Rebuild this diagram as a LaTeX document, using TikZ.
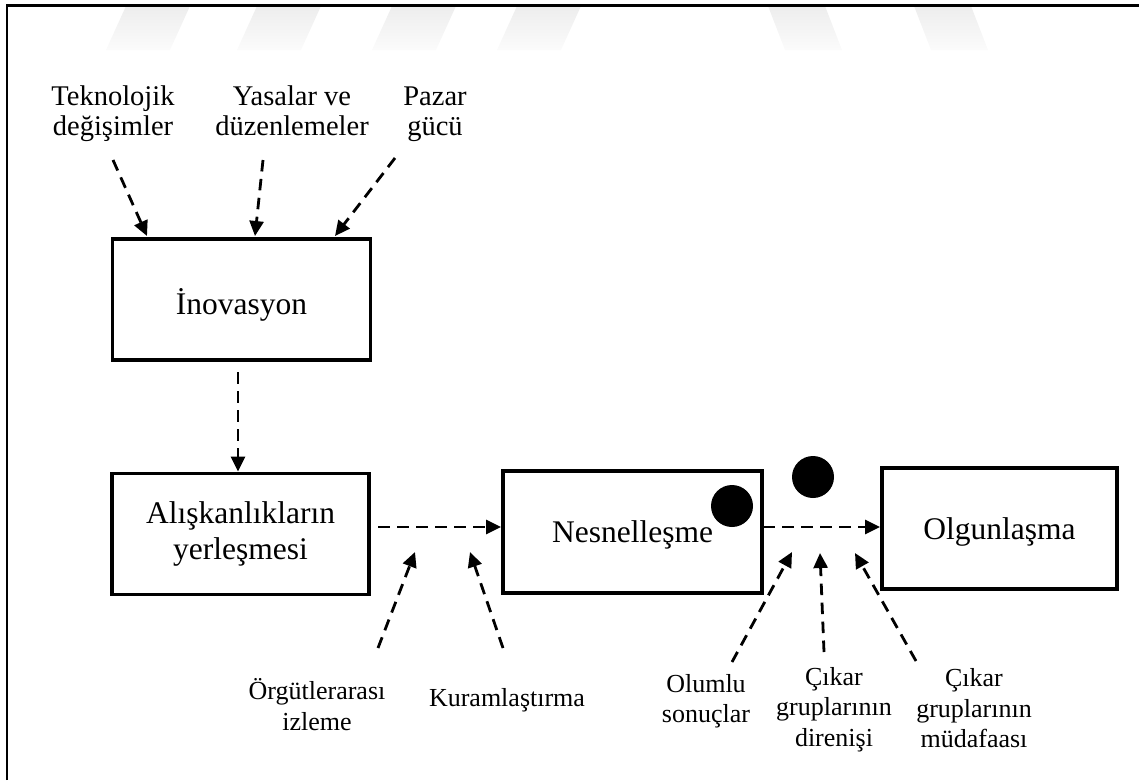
\documentclass[tikz,border=0pt]{standalone}
\usepackage{fontspec}
\setmainfont{Liberation Serif}
\usetikzlibrary{arrows.meta}
\begin{document}
\begin{tikzpicture}[x=1pt,y=-1pt,
  stage/.style={draw,line width=3.8pt,minimum width=#1,minimum height=121pt,
    inner sep=0pt,align=center,font=\fontsize{31.5}{36}\selectfont},
  oneline/.style={text height=21pt,text depth=0pt},
  toplabel/.style={align=center,inner sep=0pt,font=\fontsize{28.5}{30}\selectfont},
  lowlabel/.style={align=center,inner sep=0pt,font=\fontsize{26}{30.5}\selectfont},
  flow/.style={line width=2.8pt,dash pattern=on 11.5pt off 7.5pt,
    -{Triangle[length=15pt,width=14pt]}},
  marker/.style={fill=black},
  mark bar/.style={top color=black!7,bottom color=black!1.5,draw=none}]
\useasboundingbox (0,0) rectangle (1139,780);

% faint bars along the top edge
\shade[mark bar] (106,50) -- (126,6) -- (190,6) -- (170,50) -- cycle;
\shade[mark bar] (237,50) -- (257,6) -- (321,6) -- (301,50) -- cycle;
\shade[mark bar] (372,50) -- (392,6) -- (456,6) -- (436,50) -- cycle;
\shade[mark bar] (497,50) -- (517,6) -- (581,6) -- (561,50) -- cycle;
\shade[mark bar] (785,50) -- (768,6) -- (825,6) -- (842,50) -- cycle;
\shade[mark bar] (931,50) -- (914,6) -- (971,6) -- (988,50) -- cycle;

% frame
\draw[line width=2.6pt] (7,780) -- (7,5.5) -- (1139,5.5);

% stages
\node[stage=258pt,text height=30pt,text depth=0pt] (ino) at (241.5,299.5) {İnovasyon};
\node[stage=257pt] (alis) at (240.5,534) {Alışkanlıkların\\yerleşmesi};
\node[stage=259pt,minimum height=122pt,oneline] (nes) at (632.5,532) {Nesnelleşme};
\node[stage=235pt,oneline] (olg) at (999.5,528.5) {Olgunlaşma};

% markers
\fill[marker] (732,506) circle (21);
\fill[marker] (813,477) circle (21);

% influences on innovation
\node[toplabel] (tek) at (113,114.5) {\strut Teknolojik\\\strut değişimler};
\node[toplabel] (yas) at (292,114.5) {\strut Yasalar ve\\\strut düzenlemeler};
\node[toplabel] (paz) at (435,114.5) {\strut Pazar\\\strut gücü};
\coordinate (tek0) at (113,160);
\coordinate (yas0) at (263,160);
\coordinate (paz0) at (395,158);
\draw[flow] (tek0) -- (147,236);
\draw[flow] (yas0) -- (255,236);
\draw[flow] (paz0) -- (335,236);

% main flow
\coordinate (f1) at (238,372);
\draw[flow] (f1) -- (f1 |- alis.north);
\coordinate (f2) at (378,527);
\draw[flow] (f2) -- (f2 -| nes.west);
\coordinate (f3) at (763,527);
\draw[flow] (f3) -- (f3 -| olg.west);

% lower labels
\node[lowlabel] (org) at (317,709) {\strut Örgütlerarası\\\strut izleme};
\node[lowlabel] (kur) at (507,700) {\strut Kuramlaştırma};
\node[lowlabel] (olu) at (706,701.5) {\strut Olumlu\\\strut sonuçlar};
\node[lowlabel] (dir) at (834,709.5) {\strut Çıkar\\\strut gruplarının\\\strut direnişi};
\node[lowlabel] (mud) at (974,711) {\strut Çıkar\\\strut gruplarının\\\strut müdafaası};

\coordinate (org0) at (378,648);
\coordinate (kur0) at (503,648);
\coordinate (olu0) at (732,662);
\coordinate (dir0) at (824,652);
\coordinate (mud0) at (916,661);
\coordinate (org1) at (415,552);
\coordinate (kur1) at (470,552);
\coordinate (olu1) at (792,552);
\coordinate (dir1) at (820,553);
\coordinate (mud1) at (855,553);
\draw[flow] (org0) -- (org1);
\draw[flow] (kur0) -- (kur1);
\draw[flow] (olu0) -- (olu1);
\draw[flow] (dir0) -- (dir1);
\draw[flow] (mud0) -- (mud1);
\end{tikzpicture}
\end{document}
